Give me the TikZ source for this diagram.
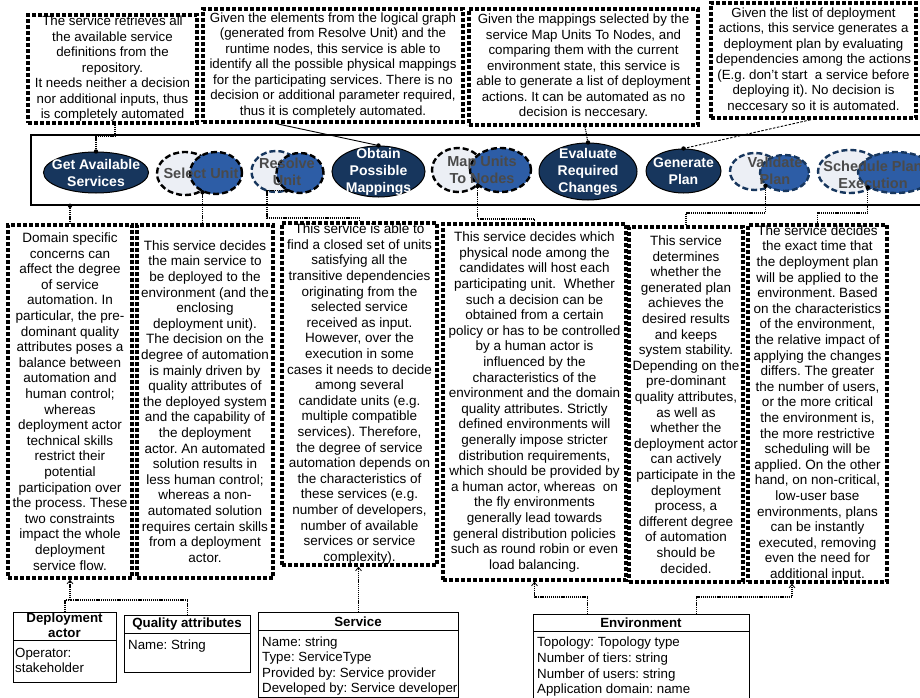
\documentclass[tikz,border=0pt]{standalone}
\usepackage{fontspec}
\setmainfont{Liberation Sans}
\usetikzlibrary{shapes.geometric,arrows.meta}
\frenchspacing

\definecolor{navy}{HTML}{17365D}
\definecolor{midblue}{HTML}{2D5DA6}
\definecolor{paleblue}{HTML}{ECEFF5}
\definecolor{labelgray}{HTML}{4A4A4A}

\tikzset{
  note/.style={rectangle, inner sep=0pt, align=center, draw=black,
    line width=3.6pt, dash pattern=on 4pt off 2pt},
  topnote/.style={note, font=\fontsize{13.3}{15.5}\selectfont},
  lownote/.style={note, font=\fontsize{13.5}{15.6}\selectfont},
  band/.style={rectangle, inner sep=0pt, draw=black, line width=1.6pt},
  task/.style={ellipse, inner sep=0pt, draw=black, line width=1pt, fill=navy},
  tasktext/.style={text=white, font=\fontsize{14}{17}\bfseries\selectfont,
    align=center, inner sep=0pt},
  ghost/.style={ellipse, inner sep=0pt, fill=paleblue, line width=2.4pt,
    dash pattern=on 6pt off 3pt},
  partial/.style={ellipse, inner sep=0pt, fill=midblue, line width=2.4pt,
    dash pattern=on 6pt off 3pt},
  ghosttext/.style={text=labelgray, font=\fontsize{14.5}{17}\bfseries\selectfont,
    align=center, inner sep=0pt},
  link/.style={line width=1.1pt, dash pattern=on 1.2pt off 0.9pt},
  arrowlink/.style={link, -{Straight Barb[length=3.5pt,width=6pt,line width=0.8pt]}},
  umlbox/.style={rectangle, inner sep=0pt, anchor=north west, draw=black,
    line width=1pt},
  umlhead/.style={font=\fontsize{13.3}{15}\bfseries\selectfont, align=center,
    inner sep=0pt},
  umlattr/.style={font=\fontsize{13.3}{15.4}\selectfont, align=left,
    anchor=west, inner sep=0pt},
}

\begin{document}
\begin{tikzpicture}[x=1pt,y=-1pt]
\useasboundingbox (0,0) rectangle (920,698);
\fill[white] (0,0) rectangle (920,698);
\clip (0,0) rectangle (920,698);

% ---------- descriptions of the automated services (top) ----------
\node[topnote, minimum width=169, minimum height=108] (nA) at (112.5,69)
  {The service retrieves all\\the available service\\definitions from the\\repository.\\
   It needs neither a decision\\nor additional inputs, thus\\is completely automated};
\node[topnote, minimum width=260, minimum height=113] (nB) at (333,65.5)
  {Given the elements from the logical graph\\(generated from Resolve Unit) and the\\
   runtime nodes, this service is able to\\identify all the possible physical mappings\\
   for the participating services. There is no\\decision or additional parameter required,\\
   thus it is completely automated.};
\node[topnote, minimum width=229, minimum height=116] (nC) at (583.5,67)
  {Given the mappings selected by the\\service Map Units To Nodes, and\\
   comparing them with the current\\environment state, this service is\\
   able to generate a list of deployment\\actions. It can be automated as no\\
   decision is neccesary.};
\node[topnote, minimum width=205, minimum height=115] (nD) at (813.5,60.5)
  {Given the list of deployment\\actions, this service generates a\\
   deployment plan by evaluating\\dependencies among the actions\\
   (E.g. don’t start \ a service before\\deploying it). No decision is\\
   neccesary so it is automated.};

% ---------- process band ----------
\node[band, minimum width=899, minimum height=70] (band) at (480.5,170) {};

\node[task, minimum width=105, minimum height=41] (gas) at (96,172.5) {};
\node[tasktext] (gasT) at (gas) {Get Available\\Services};

\node[ghost, draw=black, minimum width=56, minimum height=43] (suA) at (185,173.5) {};
\node[partial, draw=black, minimum width=52, minimum height=42] (suB) at (216,173) {};
\node[ghosttext] (suT) at (201,173) {Select Unit};

\node[ghost, draw=navy, minimum width=49, minimum height=41] (ruA) at (276,171.5) {};
\node[partial, draw=black, minimum width=47, minimum height=40] (ruB) at (300,173) {};
\node[ghosttext] (ruT) at (287,171.5) {Resolve\\Unit};

\node[task, minimum width=93, minimum height=51] (opm) at (378.5,171.5) {};
\node[tasktext] (opmT) at (opm) {Obtain\\Possible\\Mappings};

\node[ghost, draw=black, minimum width=52, minimum height=44] (muA) at (458,170) {};
\node[partial, draw=black, minimum width=61, minimum height=44] (muB) at (500.5,170) {};
\node[ghosttext] (muT) at (482,169.5) {Map Units\\To Nodes};

\node[task, minimum width=98, minimum height=57] (erc) at (588,171.5) {};
\node[tasktext] (ercT) at (erc) {Evaluate\\Required\\Changes};

\node[task, minimum width=75, minimum height=44] (gp) at (683.5,171) {};
\node[tasktext] (gpT) at (gp) {Generate\\Plan};

\node[ghost, draw=navy, minimum width=50, minimum height=37] (vpA) at (755,171.5) {};
\node[partial, draw=navy, minimum width=49, minimum height=36] (vpB) at (784.5,173) {};
\node[ghosttext] (vpT) at (775,171) {Validate\\Plan};

\node[ghost, draw=navy, minimum width=64, minimum height=43] (spA) at (850,171.5) {};
\node[partial, draw=navy, minimum width=76, minimum height=41] (spB) at (896,172.5) {};
\node[ghosttext] (spT) at (873,174.5) {Schedule Plan\\Execution};

% ---------- descriptions of the decision services (bottom) ----------
\node[lownote, minimum width=124, minimum height=353] (nE) at (70,401.5)
  {Domain specific\\concerns can\\affect the degree\\of service\\automation. In\\
   particular, the pre-\\dominant quality\\attributes poses a\\balance between\\
   automation and\\human control;\\whereas\\deployment actor\\technical skills\\
   restrict their\\potential\\participation over\\the process. These\\
   two constraints\\impact the whole\\deployment\\service flow.};
\node[lownote, minimum width=136, minimum height=353] (nF) at (205,401.5)
  {This service decides\\the main service to\\be deployed to the\\environment (and the\\
   enclosing\\deployment unit).\\The decision on the\\degree of automation\\
   is mainly driven by\\quality attributes of\\the deployed system\\
   and the capability of\\the deployment\\actor. An automated\\solution results in\\
   less human control;\\whereas a non-\\automated solution\\requires certain skills\\
   from a deployment\\actor.};
\node[lownote, minimum width=155, minimum height=342] (nG) at (359.5,394)
  {This service is able to\\find a closed set of units\\satisfying all the\\
   transitive dependencies\\originating from the\\selected service\\
   received as input.\\However, over the\\execution in some\\
   cases it needs to decide\\among several\\candidate units (e.g.\\
   multiple compatible\\services). Therefore,\\the degree of service\\
   automation depends on\\the characteristics of\\these services (e.g.\\
   number of developers,\\number of available\\services or service\\complexity).};
\node[lownote, minimum width=183, minimum height=356] (nH) at (534.5,402)
  {This service decides which\\physical node among the\\candidates will host each\\
   participating unit. \ Whether\\such a decision can be\\obtained from a certain\\
   policy or has to be controlled\\by a human actor is\\influenced by the\\
   characteristics of the\\environment and the domain\\quality attributes. Strictly\\
   defined environments will\\generally impose stricter\\distribution requirements,\\
   which should be provided by\\a human actor, whereas \ on\\the fly environments\\
   generally lead towards\\general distribution policies\\such as round robin or even\\
   load balancing.};
\node[lownote, minimum width=114, minimum height=355] (nI) at (686,404.5)
  {This service\\determines\\whether the\\generated plan\\achieves the\\
   desired results\\and keeps\\system stability.\\Depending on the\\pre-dominant\\
   quality attributes,\\as well as\\whether the\\deployment actor\\can actively\\
   participate in the\\deployment\\process, a\\different degree\\of automation\\
   should be\\decided.};
\node[lownote, minimum width=139, minimum height=357] (nJ) at (817.5,403.5)
  {The service decides\\the exact time that\\the deployment plan\\will be applied to the\\
   environment. Based\\on the characteristics\\of the environment,\\
   the relative impact of\\applying the changes\\differs. The greater\\
   the number of users,\\or the more critical\\the environment is,\\
   the more restrictive\\scheduling will be\\applied. On the other\\
   hand, on non-critical,\\low-user base\\environments, plans\\
   can be instantly\\executed, removing\\even the need for\\additional input.};

% ---------- context classes ----------
\node[umlbox, minimum width=103, minimum height=70] (da) at (13,612) {};
\draw[line width=1pt] ([yshift=-28pt]da.north west) -- ([yshift=-28pt]da.north east);
\node[umlhead] (daH) at (64.5,625.5) {Deployment\\actor};
\node[umlattr] (daA) at (15,660.5) {Operator:\\stakeholder};

\node[umlbox, minimum width=126, minimum height=57] (qa) at (124,615) {};
\draw[line width=1pt] ([yshift=-18pt]qa.north west) -- ([yshift=-18pt]qa.north east);
\node[umlhead] (qaH) at (187,624.5) {Quality attributes};
\node[umlattr] (qaA) at (128,646) {Name: String};

\node[umlbox, minimum width=200, minimum height=85] (svc) at (258,612) {};
\draw[line width=1pt] ([yshift=-18pt]svc.north west) -- ([yshift=-18pt]svc.north east);
\node[umlhead] (svcH) at (358,621.5) {Service};
\node[umlattr] (svcA) at (262,666)
  {Name: string\\Type: ServiceType\\Provided by: Service provider\\Developed by: Service developer};

\node[umlbox, minimum width=216, minimum height=95] (env) at (533,614) {};
\draw[line width=1pt] ([yshift=-17pt]env.north west) -- ([yshift=-17pt]env.north east);
\node[umlhead] (envH) at (641,623) {Environment};
\node[umlattr, font=\fontsize{13.3}{15.7}\selectfont] (envA) at (537,667)
  {Topology: Topology type\\Number of tiers: string\\Number of users: string\\Application domain: name};

% ---------- connectors: top descriptions ----------
\coordinate (aOut) at ([xshift=2.5pt]nA.south);
\coordinate (aLevel) at (0,136);
\draw[link] (aOut) |- (gas.north |- aLevel) -- (gas.north);
\fill (gas.north) circle (2.2);

\draw[line width=0.9pt] ([xshift=-56pt]nB.south) -- (opm.north);
\fill (opm.north) circle (2.2);

\draw[link] ([xshift=1.5pt]nC.south) -- (erc.north);
\fill (erc.north) circle (2.2);

\draw[line width=0.9pt, dash pattern=on 2.5pt off 1.5pt] ([xshift=-3pt]nD.south) -- (gp.north);
\fill (gp.north) circle (2.2);

% ---------- connectors: bottom descriptions ----------
\draw[link] (band.south -| nE.north) -- (nE.north);
\fill (band.south -| nE.north) circle (2.2);

\draw[link] (suB.235) -- (suB.235 |- nF.north);
\fill (suB.235) circle (2.2);

\coordinate (gKnee) at (267,218);
\draw[link] (ruB.232) -| (gKnee) -| (nG.north);
\fill (ruB.232) circle (2.2);

\coordinate (hLevel) at (0,219);
\draw[link] (muB.215) |- (nH.north |- hLevel) -- (nH.north);
\fill (muB.215) circle (2.2);

\coordinate (iLevel) at (0,213);
\draw[link] (vpB.214) |- (nI.north |- iLevel) -- (nI.north);
\fill (vpB.214) circle (2.2);

\coordinate (jLevel) at (0,213);
\draw[link] (spB.208) |- (nJ.north |- jLevel) -- (nJ.north);
\fill (spB.208) circle (2.2);

% ---------- connectors: context classes ----------
\coordinate (eLevel) at (0,600);
\draw[link] (qa.north) |- (nE.south |- eLevel);
\draw[arrowlink] (da.north) |- (nE.south |- eLevel) -- (nE.south);

\draw[arrowlink] (svc.north) -- (svc.north |- nG.south);

\coordinate (envLevel) at (0,597);
\coordinate (jIn) at ([xshift=-25.5pt]nJ.south);
\draw[arrowlink] ([xshift=-54pt]env.north) |- (nH.south |- envLevel) -- (nH.south);
\draw[arrowlink] ([xshift=55pt]env.north) |- (jIn |- envLevel) -- (jIn);

\end{tikzpicture}
\end{document}
